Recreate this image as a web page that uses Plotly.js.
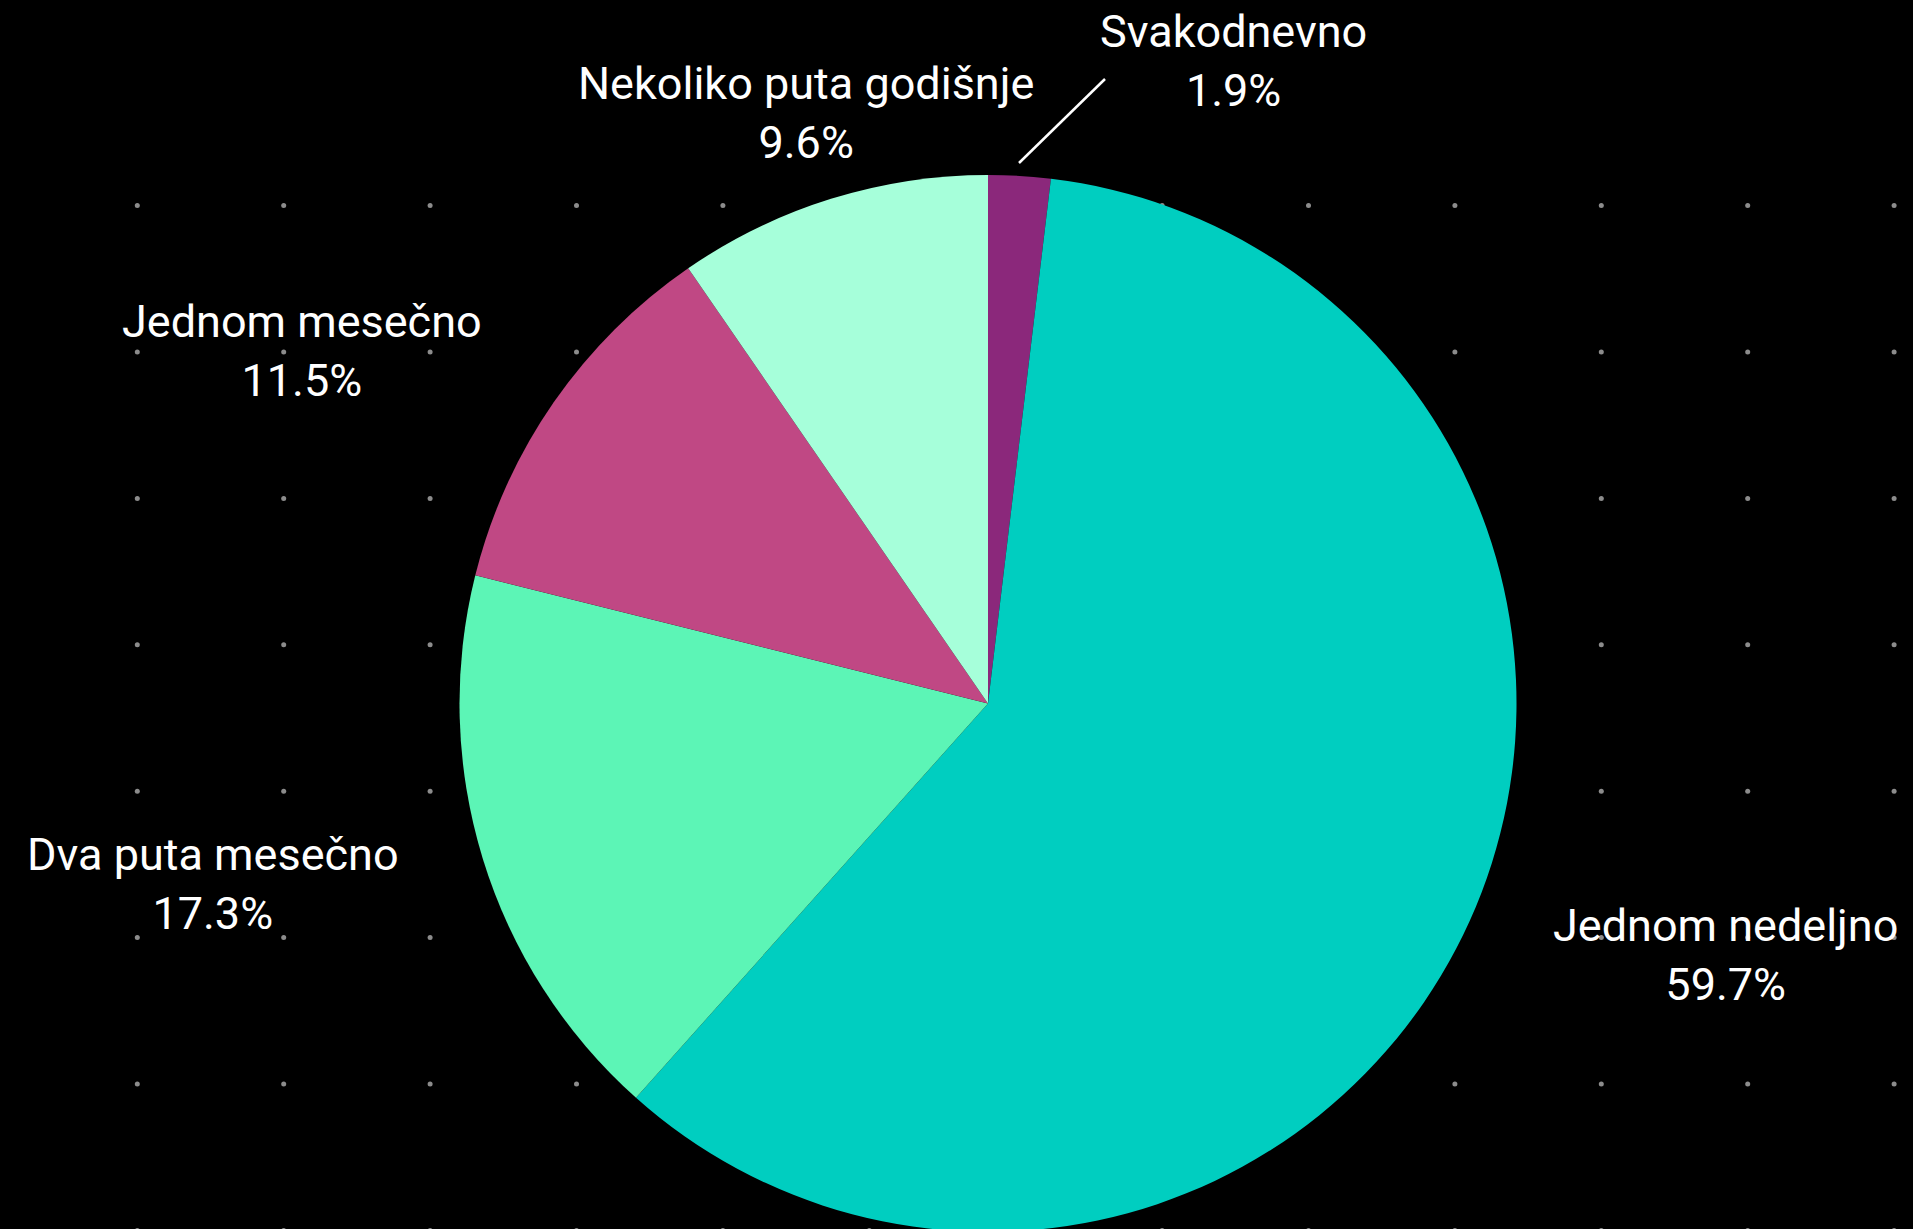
<!DOCTYPE html>
<html>
<head>
<meta charset="utf-8">
<script src="https://cdn.plot.ly/plotly-3.0.1.min.js"></script>
<style>
  html, body { margin: 0; padding: 0; background: #000; overflow: hidden; }
  #chart { width: 1913px; height: 1260px; }
</style>
</head>
<body>
<div id="chart"></div>
<script>
// ---- data ----
const categories = ["Svakodnevno", "Jednom nedeljno", "Dva puta mesečno", "Jednom mesečno", "Nekoliko puta godišnje"];
const percentages = [1.9, 59.7, 17.3, 11.5, 9.6];
const sliceColors = ["#8B287B", "#00CEC0", "#5CF5B6", "#C04884", "#A6FFDA"];

// ---- layout constants (pixels) ----
const W = 1913, H = 1260;
const center = [988, 703.5], R = 528.5;
// label block centres (pixels) for each category, same order
const labelPos = [[1233, 61], [1725, 955], [213, 884], [302, 351], [806, 113]];
// leader line for the small slice
const leader = [[1019, 163], [1105, 79]];
// background dot grid
const dotX0 = 137.3, dotY0 = 205.6, dotStep = 146.4, dotCols = 13, dotRows = 8;

const px = x => x / W;
const py = y => 1 - y / H;

const dx = [], dy = [];
for (let r = 0; r < dotRows; r++) {
  for (let c = 0; c < dotCols; c++) {
    dx.push(dotX0 + c * dotStep);
    dy.push(dotY0 + r * dotStep);
  }
}

const dots = {
  type: "scatter", mode: "markers", x: dx, y: dy,
  marker: { size: 5, color: "#8c8c8c" },
  hoverinfo: "skip", showlegend: false
};

const pie = {
  type: "pie",
  labels: categories,
  values: percentages,
  sort: false,
  direction: "clockwise",
  rotation: 0,
  marker: { colors: sliceColors, line: { width: 0 } },
  textinfo: "none",
  hoverinfo: "label+percent",
  showlegend: false,
  domain: {
    x: [px(center[0] - R), px(center[0] + R)],
    y: [py(center[1] + R), py(center[1] - R)]
  }
};

const fontFam = "Roboto, 'Noto Sans', sans-serif";
const annotations = categories.map((c, i) => ({
  xref: "paper", yref: "paper",
  x: px(labelPos[i][0]), y: py(labelPos[i][1]),
  xanchor: "center", yanchor: "middle",
  text: c + "<br>" + percentages[i].toFixed(1) + "%",
  showarrow: false,
  align: "center",
  font: { family: fontFam, size: 45, color: "#ffffff" }
}));

const layout = {
  width: W, height: H,
  margin: { l: 0, r: 0, t: 0, b: 0, pad: 0 },
  paper_bgcolor: "#000000",
  plot_bgcolor: "#000000",
  showlegend: false,
  xaxis: { range: [0, W], visible: false, fixedrange: true },
  yaxis: { range: [H, 0], visible: false, fixedrange: true },
  annotations: annotations,
  shapes: [{
    type: "line", xref: "paper", yref: "paper", layer: "above",
    x0: px(leader[0][0]), y0: py(leader[0][1]),
    x1: px(leader[1][0]), y1: py(leader[1][1]),
    line: { color: "#ffffff", width: 2.5 }
  }]
};

Plotly.newPlot("chart", [dots, pie], layout, { displayModeBar: false, staticPlot: true });
</script>
</body>
</html>
